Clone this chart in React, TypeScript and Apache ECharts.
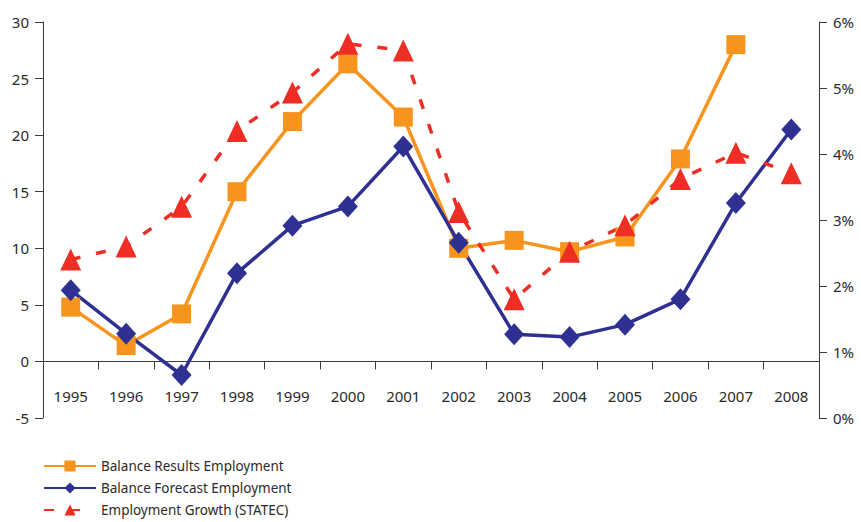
import React, { useEffect, useRef } from "react";
import * as echarts from "echarts";

// Years on the category axis
const years = [
  "1995", "1996", "1997", "1998", "1999", "2000", "2001",
  "2002", "2003", "2004", "2005", "2006", "2007", "2008",
];

// Balance of survey results (left axis)
const balanceResults: (number | null)[] = [
  4.8, 1.4, 4.2, 15.0, 21.2, 26.3, 21.6, 10.0, 10.7, 9.7, 11.0, 17.9, 28.0, null,
];

// Balance of forecasts (left axis)
const balanceForecast = [
  6.3, 2.45, -1.2, 7.8, 12.0, 13.7, 19.0, 10.5, 2.4, 2.15, 3.25, 5.5, 14.0, 20.5,
];

// Employment growth in percent (right axis)
const employmentGrowth = [
  2.4, 2.6, 3.2, 4.35, 4.93, 5.67, 5.57, 3.12, 1.8, 2.52, 2.92, 3.62, 4.02, 3.71,
];

const FONT = "Noto Sans";
const TEXT = "#2b2b2b";
const AXIS = "#3c3c3c";

export default function App() {
  const ref = useRef<HTMLDivElement>(null);

  useEffect(() => {
    if (!ref.current) return;
    const chart = echarts.init(ref.current, undefined, { renderer: "svg" });
    chart.setOption({
      animation: false,
      backgroundColor: "#ffffff",
      textStyle: { fontFamily: FONT, color: TEXT },
      grid: { left: 43, right: 42, top: 22, bottom: 104, containLabel: false },
      legend: {
        orient: "vertical",
        left: 43,
        top: 459,
        padding: 0,
        height: 70,
        itemWidth: 52,
        itemHeight: 14,
        itemGap: 8,
        textStyle: { fontFamily: FONT, fontSize: 13.5, color: TEXT },
        data: [
          "Balance Results Employment",
          "Balance Forecast Employment",
          "Employment Growth (STATEC)",
        ],
      },
      xAxis: {
        type: "category",
        data: years,
        boundaryGap: true,
        axisLine: {
          onZero: true,
          onZeroAxisIndex: 0,
          lineStyle: { color: AXIS, width: 1 },
        },
        axisTick: {
          show: true,
          alignWithLabel: false,
          length: 8,
          lineStyle: { color: AXIS },
        },
        axisLabel: {
          margin: -30,
          fontSize: 15,
          color: TEXT,
          fontFamily: FONT,
        },
        splitLine: { show: false },
      },
      yAxis: [
        {
          type: "value",
          min: -5,
          max: 30,
          interval: 5,
          position: "left",
          axisLine: { show: true, lineStyle: { color: AXIS, width: 1 } },
          axisTick: { show: true, length: 8, lineStyle: { color: AXIS } },
          axisLabel: { margin: 14, fontSize: 15, color: TEXT, fontFamily: FONT },
          splitLine: { show: false },
        },
        {
          type: "value",
          min: 0,
          max: 6,
          interval: 1,
          position: "right",
          axisLine: { show: true, lineStyle: { color: AXIS, width: 1 } },
          axisTick: { show: true, length: 8, lineStyle: { color: AXIS } },
          axisLabel: {
            margin: 14,
            fontSize: 15,
            color: TEXT,
            fontFamily: FONT,
            formatter: "{value}%",
          },
          splitLine: { show: false },
        },
      ],
      series: [
        {
          name: "Balance Results Employment",
          type: "line",
          yAxisIndex: 0,
          data: balanceResults,
          connectNulls: false,
          symbol: "rect",
          symbolSize: 19,
          itemStyle: { color: "#F7941D" },
          lineStyle: { color: "#F7941D", width: 3.5 },
        },
        {
          name: "Balance Forecast Employment",
          type: "line",
          yAxisIndex: 0,
          data: balanceForecast,
          symbol: "diamond",
          symbolSize: [20, 22],
          itemStyle: { color: "#2E3192" },
          lineStyle: { color: "#2E3192", width: 3.5 },
        },
        {
          name: "Employment Growth (STATEC)",
          type: "line",
          yAxisIndex: 1,
          data: employmentGrowth,
          symbol: "triangle",
          symbolSize: [21, 22],
          itemStyle: { color: "#EE2E24" },
          lineStyle: { color: "#EE2E24", width: 3.5, type: [10, 16] },
        },
      ],
    });
    return () => chart.dispose();
  }, []);

  return (
    <div
      ref={ref}
      style={{ position: "fixed", left: 0, top: 0, width: 861, height: 522 }}
    />
  );
}
